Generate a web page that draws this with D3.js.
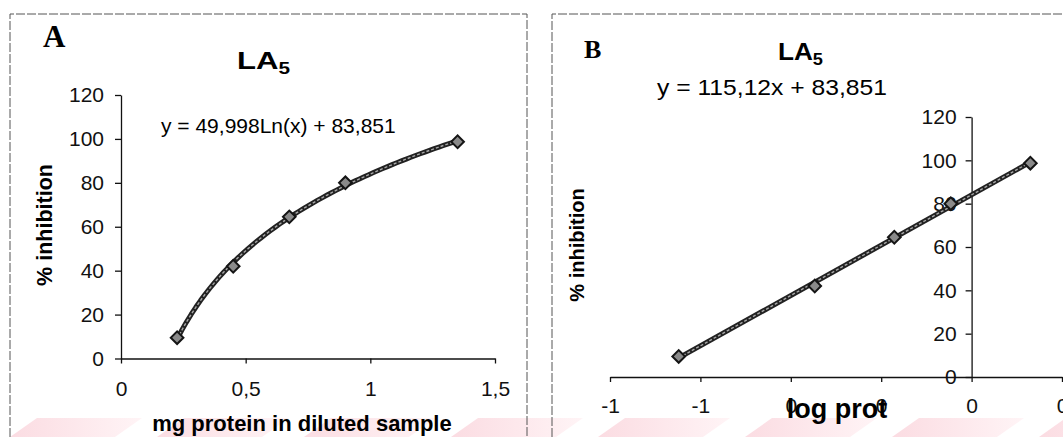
<!DOCTYPE html>
<html>
<head>
  <meta charset="utf-8">
  <style>
body { margin: 0; background: #fff; }
svg { font-family: "Liberation Sans", Arial, sans-serif; }
.axis text { font-family: "Liberation Sans", Arial, sans-serif; fill: #111; }
.axis line, .axis path { stroke: #111; stroke-width: 1.3; }
.frame { fill: none; stroke: #555; stroke-width: 1; stroke-dasharray: 9,2; }
  </style>
</head>
<body>
  <svg id="chart" width="1063" height="437"></svg>
  <script src="https://cdn.jsdelivr.net/npm/d3@7/dist/d3.min.js"></script>
  <script>
// Data
var prot = [0.225, 0.45, 0.675, 0.9, 1.35];          // mg protein in diluted sample
var logProt = [-0.648, -0.347, -0.171, -0.046, 0.130]; // log prot
var inhibition = [9.5, 42, 64.5, 80, 98.7];            // % inhibition

var yTicks = [0, 20, 40, 60, 80, 100, 120];
var xTicksA = [0, 0.5, 1, 1.5];
var xTicksB = [-0.8, -0.6, -0.4, -0.2, 0, 0.2];

var eqA = "y = 49,998Ln(x) + 83,851";
var eqB = "y = 115,12x + 83,851";

var svg = d3.select("#chart");

// pale pink watermark stripes at the bottom
var defs = svg.append("defs");
var grad = defs.append("linearGradient").attr("id", "pink");
grad.append("stop").attr("offset", "0%").attr("stop-color", "#fbdce2");
grad.append("stop").attr("offset", "100%").attr("stop-color", "#fff4f6");
svg.selectAll(".wm")
  .data(d3.range(-1, 8))
  .enter().append("path")
    .attr("class", "wm")
    .attr("fill", "url(#pink)")
    .attr("d", function(k) {
      var s = 37 + k * 147;
      return "M" + s + ",418 L" + (s + 105) + ",418 L" + (s + 78) + ",437 L" + (s - 27) + ",437 Z";
    });

// panel frames
svg.append("path").attr("class", "frame").attr("d", "M10,437 L10,14 L527,14 L527,437");
svg.append("path").attr("class", "frame").attr("d", "M552,437 L552,14 L1063,14");

var commaFmt = function(v) { return String(v).replace(".", ","); };

// least squares fit y = a*X + b
function fit(xs, ys) {
  var mx = d3.mean(xs), my = d3.mean(ys);
  var num = d3.sum(xs, function(x, i) { return (x - mx) * (ys[i] - my); });
  var den = d3.sum(xs, function(x) { return (x - mx) * (x - mx); });
  var a = num / den;
  return { a: a, b: my - a * mx };
}

function drawLine(g, pts) {
  var line = d3.line().x(function(d) { return d[0]; }).y(function(d) { return d[1]; });
  g.append("path").attr("d", line(pts)).attr("fill", "none")
    .attr("stroke", "#222").attr("stroke-width", 5).attr("stroke-linejoin", "round");
  g.append("path").attr("d", line(pts)).attr("fill", "none")
    .attr("stroke", "#a8a8a8").attr("stroke-width", 1.4).attr("stroke-dasharray", "3,2");
}

function drawMarkers(g, xs, ys, x, y) {
  g.selectAll(".pt")
    .data(xs)
    .enter().append("path")
      .attr("class", "pt")
      .attr("d", d3.symbol().type(d3.symbolSquare).size(80))
      .attr("transform", function(d, i) { return "translate(" + x(d) + "," + y(ys[i]) + ") rotate(45)"; })
      .attr("fill", "#8a8a8a")
      .attr("stroke", "#151515")
      .attr("stroke-width", 2);
}

// ---------- Panel A ----------
var xA = d3.scaleLinear().domain([0, 1.5]).range([121, 495]);
var yA = d3.scaleLinear().domain([0, 120]).range([358.5, 95]);
var gA = svg.append("g");

gA.append("g").attr("class", "axis")
  .attr("transform", "translate(0," + yA(0) + ")")
  .call(d3.axisBottom(xA).tickValues(xTicksA).tickFormat(commaFmt).tickSize(5).tickSizeOuter(0).tickPadding(18))
  .selectAll("text").attr("font-size", 21);

gA.append("g").attr("class", "axis")
  .attr("transform", "translate(" + xA(0) + ",0)")
  .call(d3.axisLeft(yA).tickValues(yTicks).tickSize(6).tickSizeOuter(0).tickPadding(11))
  .selectAll("text").attr("font-size", 21);

var fA = fit(prot.map(Math.log), inhibition);
var lnPts = d3.range(0, 61).map(function(i) {
  var v = d3.min(prot) + (d3.max(prot) - d3.min(prot)) * i / 60;
  return [xA(v), yA(fA.a * Math.log(v) + fA.b)];
});
drawLine(gA, lnPts);
drawMarkers(gA, prot, inhibition, xA, yA);

gA.append("text").attr("x", 43).attr("y", 47)
  .attr("font-family", "'Liberation Serif', 'Times New Roman', serif")
  .attr("font-weight", "bold").attr("font-size", 31).text("A");

var tA = gA.append("text").attr("x", 237).attr("y", 69)
  .attr("font-weight", "bold").attr("font-size", 24)
  .attr("textLength", 53).attr("lengthAdjust", "spacingAndGlyphs");
tA.append("tspan").text("LA");
tA.append("tspan").attr("font-size", 16).attr("dy", 5).text("5");

gA.append("text").attr("x", 161).attr("y", 133).attr("font-size", 21).text(eqA);

gA.append("text").attr("x", 302).attr("y", 431).attr("text-anchor", "middle")
  .attr("font-weight", "bold").attr("font-size", 22).text("mg protein in diluted sample");

gA.append("text").attr("transform", "translate(52,225) rotate(-90)")
  .attr("text-anchor", "middle").attr("font-weight", "bold").attr("font-size", 21.5)
  .text("% inhibition");

// ---------- Panel B ----------
var xB = d3.scaleLinear().domain([-0.8, 0.2]).range([610, 1062]);
var yB = d3.scaleLinear().domain([0, 120]).range([377, 117]);
var gB = svg.append("g");

gB.append("g").attr("class", "axis")
  .attr("transform", "translate(0," + yB(0) + ")")
  .call(d3.axisBottom(xB).tickValues(xTicksB)
    .tickFormat(function(v) { var r = Math.round(v); return r === 0 ? "0" : String(r); })
    .tickSize(5).tickSizeOuter(0).tickPadding(16))
  .selectAll("text").attr("font-size", 21);

gB.append("g").attr("class", "axis")
  .attr("transform", "translate(" + xB(0) + ",0)")
  .call(d3.axisLeft(yB).tickValues(yTicks).tickSize(6).tickSizeOuter(0).tickPadding(9))
  .selectAll("text").attr("font-size", 21);

var fB = fit(logProt, inhibition);
var linPts = d3.extent(logProt).map(function(v) { return [xB(v), yB(fB.a * v + fB.b)]; });
drawLine(gB, linPts);
drawMarkers(gB, logProt, inhibition, xB, yB);

gB.append("text").attr("x", 584).attr("y", 58)
  .attr("font-family", "'Liberation Serif', 'Times New Roman', serif")
  .attr("font-weight", "bold").attr("font-size", 26).text("B");

var tB = gB.append("text").attr("x", 778).attr("y", 60)
  .attr("font-weight", "bold").attr("font-size", 23)
  .attr("textLength", 45).attr("lengthAdjust", "spacingAndGlyphs");
tB.append("tspan").text("LA");
tB.append("tspan").attr("font-size", 16).attr("dy", 5).text("5");

gB.append("text").attr("x", 657).attr("y", 95).attr("font-size", 22)
  .attr("textLength", 230).attr("lengthAdjust", "spacingAndGlyphs").text(eqB);

gB.append("text").attr("x", 837).attr("y", 418).attr("text-anchor", "middle")
  .attr("font-weight", "bold").attr("font-size", 27).text("log prot");

gB.append("text").attr("transform", "translate(584,245) rotate(-90)")
  .attr("text-anchor", "middle").attr("font-weight", "bold").attr("font-size", 20)
  .text("% inhibition");
  </script>
</body>
</html>
